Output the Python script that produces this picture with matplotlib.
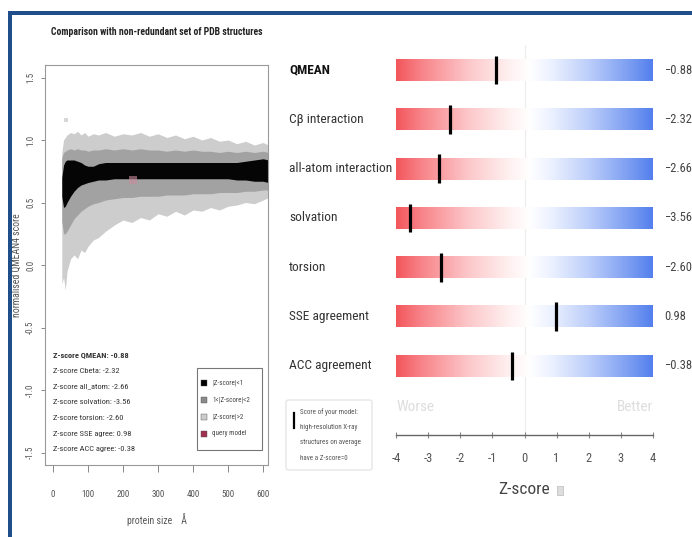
import numpy as np
import matplotlib
matplotlib.use("Agg")
import matplotlib.pyplot as plt
from matplotlib import font_manager as fm
from matplotlib.colors import LinearSegmentedColormap
from matplotlib.patches import Rectangle, FancyBboxPatch
from matplotlib.lines import Line2D
from matplotlib.transforms import blended_transform_factory

# ---------------- data ----------------
sizes = [25, 30, 35, 40, 50, 60, 70, 80, 90, 100, 115, 130, 150, 175, 200, 225, 250,
         275, 300, 325, 350, 375, 400, 425, 450, 475, 500, 525, 550, 575, 600, 615]
light_upper = [0.90, 1.00, 1.02, 1.04, 1.06, 1.05, 1.07, 1.04, 1.06, 1.03, 1.05, 1.04, 1.06, 1.03,
               1.05, 1.04, 1.06, 1.03, 1.05, 1.02, 1.04, 1.01, 1.03, 1.00, 1.02, 0.99, 1.00, 0.97,
               0.99, 0.96, 0.98, 0.96]
dark_upper = [0.86, 0.90, 0.91, 0.92, 0.93, 0.92, 0.93, 0.92, 0.92, 0.91, 0.92, 0.92, 0.93, 0.92,
              0.93, 0.92, 0.93, 0.92, 0.92, 0.91, 0.92, 0.91, 0.92, 0.91, 0.91, 0.90, 0.91, 0.90,
              0.91, 0.90, 0.91, 0.90]
black_upper = [0.70, 0.80, 0.83, 0.84, 0.84, 0.84, 0.83, 0.82, 0.80, 0.79, 0.79, 0.81, 0.82, 0.82,
               0.82, 0.82, 0.82, 0.82, 0.82, 0.82, 0.82, 0.82, 0.82, 0.82, 0.82, 0.82, 0.82, 0.82,
               0.83, 0.84, 0.85, 0.84]
black_lower = [0.55, 0.46, 0.47, 0.50, 0.55, 0.59, 0.62, 0.64, 0.65, 0.66, 0.67, 0.68, 0.68, 0.69,
               0.69, 0.69, 0.69, 0.69, 0.69, 0.69, 0.69, 0.69, 0.69, 0.69, 0.69, 0.69, 0.69, 0.68,
               0.68, 0.67, 0.67, 0.66]
dark_lower = [0.35, 0.25, 0.25, 0.27, 0.32, 0.37, 0.40, 0.43, 0.45, 0.47, 0.49, 0.50, 0.52, 0.53,
              0.54, 0.54, 0.55, 0.55, 0.55, 0.56, 0.56, 0.56, 0.57, 0.57, 0.57, 0.58, 0.58, 0.58,
              0.59, 0.59, 0.60, 0.60]
light_lower = [-0.15, -0.10, -0.20, -0.05, 0.05, 0.08, 0.05, 0.12, 0.10, 0.15, 0.20, 0.22, 0.27,
               0.32, 0.36, 0.34, 0.38, 0.36, 0.41, 0.39, 0.43, 0.40, 0.44, 0.43, 0.46, 0.44, 0.47,
               0.48, 0.50, 0.49, 0.52, 0.54]
outlier_size = [37]
outlier_score = [1.16]
query_size = [229]
query_score = [0.68]

zscore_text = ["Z-score QMEAN: -0.88", "Z-score Cbeta: -2.32", "Z-score all_atom: -2.66",
               "Z-score solvation: -3.56", "Z-score torsion: -2.60", "Z-score SSE agree: 0.98",
               "Z-score ACC agree: -0.38"]
legend_labels = ["|Z-score|<1", "1<|Z-score|<2", "|Z-score|>2", "query model"]

categories = ["QMEAN", "C\u03b2 interaction", "all-atom interaction", "solvation", "torsion",
              "SSE agreement", "ACC agreement"]
zscores = [-0.88, -2.32, -2.66, -3.56, -2.60, 0.98, -0.38]
zscore_labels = ["\u22120.88", "\u22122.32", "\u22122.66", "\u22123.56", "\u22122.60", "0.98", "\u22120.38"]
z_ticks = [-4, -3, -2, -1, 0, 1, 2, 3, 4]
x_ticks = [0, 100, 200, 300, 400, 500, 600]
y_ticks = [-1.5, -1.0, -0.5, 0.0, 0.5, 1.0, 1.5]
y_ticklabels = ["-1.5", "-1.0", "-0.5", "0.0", "0.5", "1.0", "1.5"]

# ---------------- fonts ----------------
_names = {f.name for f in fm.fontManager.ttflist}
def pick(*cands):
    for c in cands:
        if c in _names:
            return c
    return "DejaVu Sans"
NARROW = pick("Liberation Sans Narrow", "Roboto Condensed", "Open Sans Condensed", "Liberation Sans")
plt.rcParams["font.family"] = [NARROW, "DejaVu Sans"]

W, H = 692, 537
fig = plt.figure(figsize=(W / 100, H / 100), dpi=100)
fig.patch.set_facecolor("white")

def fx(px):
    return px / W
def fy(py):
    return 1 - py / H

# blue frame
fig.add_artist(Rectangle((fx(8), fy(15)), 1 - fx(8), fy(11) - fy(15), transform=fig.transFigure,
                         facecolor="#1f4e8a", edgecolor="none"))
fig.add_artist(Rectangle((fx(8), 0), fx(12) - fx(8), fy(11), transform=fig.transFigure,
                         facecolor="#1f4e8a", edgecolor="none"))

# ---------------- left scatter panel ----------------
ax = fig.add_axes([fx(45), fy(465), fx(268) - fx(45), fy(65) - fy(465)])
ax.set_xlim(-23, 614)
ax.set_ylim(-1.6, 1.6)
ax.fill_between(sizes, light_lower, light_upper, color="#cdcdcd", lw=0)
ax.fill_between(sizes, dark_lower, dark_upper, color="#a2a2a2", lw=0)
ax.fill_between(sizes, black_lower, black_upper, color="#050505", lw=0)
ax.scatter(outlier_size, outlier_score, marker="s", s=10, color="#d8d8d8", lw=0)
ax.scatter(query_size, query_score, marker="s", s=30, color="#c98c9c", alpha=0.6, lw=0)

for sp in ax.spines.values():
    sp.set_color("#9a9a9a")
    sp.set_linewidth(0.8)
ax.set_xticks(x_ticks)
ax.set_xticklabels([str(v) for v in x_ticks], fontsize=6.5, color="#555555")
ax.set_yticks(y_ticks)
ax.set_yticklabels(y_ticklabels, fontsize=6.5, color="#555555", rotation=90, va="center")
ax.tick_params(axis="x", length=5, width=0.7, color="#888888", pad=13)
ax.tick_params(axis="y", length=3, width=0.7, color="#888888", pad=4)
ax.set_xlabel("protein size    \u00c5", fontsize=7, color="#555555", labelpad=10)
ax.set_ylabel("normalised QMEAN4 score", fontsize=7, color="#555555")
ax.yaxis.set_label_coords(-(45 - 22) / (268 - 45), 0.5)
fig.text(fx(157), fy(32), "Comparison with non-redundant set of PDB structures", ha="center",
         va="center", fontsize=7, fontweight="bold", color="#222222")

for i, t in enumerate(zscore_text):
    ax.text(0, -0.72 - 0.126 * i, t, fontsize=6, color="#333333", va="center", ha="left",
            fontweight="bold" if i == 0 else "normal")

# legend box in scatter
ax.add_patch(Rectangle((411, -1.48), 186, 0.66, facecolor="white", edgecolor="#777777", lw=0.8))
leg_colors = ["#000000", "#8a8a8a", "#cccccc", "#a0304f"]
for i, (lab, col) in enumerate(zip(legend_labels, leg_colors)):
    yv = -0.944 - 0.135 * i
    ax.scatter([432], [yv], marker="s", s=14, color=col, edgecolor="#555555", lw=0.3)
    ax.text(455, yv, lab, fontsize=5, color="#444444", va="center", ha="left")

# ---------------- right Z-score panel ----------------
ax2 = fig.add_axes([fx(396), fy(435), fx(653) - fx(396), fy(45) - fy(435)])
ax2.set_xlim(-4, 4)
ax2.set_ylim(7.40, -0.507)
ax2.set_facecolor("none")

cmap = LinearSegmentedColormap.from_list("zs", [
    (0.00, (0.95, 0.34, 0.36)),
    (0.10, (0.97, 0.52, 0.54)),
    (0.28, (0.99, 0.78, 0.79)),
    (0.45, (1.00, 0.95, 0.95)),
    (0.52, (1.00, 1.00, 1.00)),
    (0.60, (0.93, 0.95, 1.00)),
    (0.75, (0.74, 0.81, 0.98)),
    (0.90, (0.50, 0.63, 0.95)),
    (1.00, (0.33, 0.50, 0.93)),
])
grad = np.linspace(0, 1, 256).reshape(1, -1)
ax2.axvline(0, color="#ececec", lw=0.8, zorder=0)
for i, (cat, z, zl) in enumerate(zip(categories, zscores, zscore_labels)):
    ax2.imshow(grad, extent=[-4, 4, i + 0.22, i - 0.22], aspect="auto", cmap=cmap,
               interpolation="bilinear", zorder=1)
    ax2.plot([z, z], [i - 0.29, i + 0.29], color="black", lw=2.3, zorder=3,
             solid_capstyle="butt")

tr_l = blended_transform_factory(fig.transFigure, ax2.transData)
for i, (cat, zl) in enumerate(zip(categories, zscore_labels)):
    fig.text(fx(289), i, cat, transform=tr_l, ha="left", va="center", fontsize=9.6,
             color="#111111" if i == 0 else "#333333",
             fontweight="bold" if i == 0 else "normal")
    fig.text(fx(664), i, zl, transform=tr_l, ha="left", va="center", fontsize=9,
             color="#444444")

ax2.text(-4, 6.83, "Worse", ha="left", va="center", fontsize=11, color="#dddddd")
ax2.text(4, 6.83, "Better", ha="right", va="center", fontsize=11, color="#dddddd")

for s in ["top", "right", "left"]:
    ax2.spines[s].set_visible(False)
ax2.spines["bottom"].set_color("#666666")
ax2.spines["bottom"].set_linewidth(1.0)
ax2.set_yticks([])
ax2.set_xticks(z_ticks)
ax2.set_xticklabels([str(t) for t in z_ticks], fontsize=9, color="#555555")
ax2.tick_params(axis="x", direction="inout", length=5, width=0.8, color="#888888", pad=10)
ax2.set_xlabel("Z-score", fontsize=12.5, color="#444444", labelpad=12)
fig.add_artist(Rectangle((fx(557), fy(495)), fx(6), 9 / H, transform=fig.transFigure,
                         facecolor="#dddddd", edgecolor="#bbbbbb", lw=0.5))

# legend box right panel
fig.add_artist(FancyBboxPatch((fx(286), fy(470)), fx(372) - fx(286), fy(400) - fy(470),
                              boxstyle="round,pad=0,rounding_size=0.004",
                              transform=fig.transFigure, facecolor="white",
                              edgecolor="#e6e6e6", lw=1.0))
fig.add_artist(Line2D([fx(294), fx(294)], [fy(413), fy(428)], transform=fig.transFigure,
                      color="black", lw=1.6))
for i, t in enumerate(["Score of your model:", "high-resolution X-ray",
                       "structures on average", "have a Z-score=0"]):
    fig.text(fx(300), fy(412 + 15.5 * i), t, fontsize=5, color="#555555", va="center", ha="left")

fig.savefig("out.png", dpi=100, facecolor="white")
